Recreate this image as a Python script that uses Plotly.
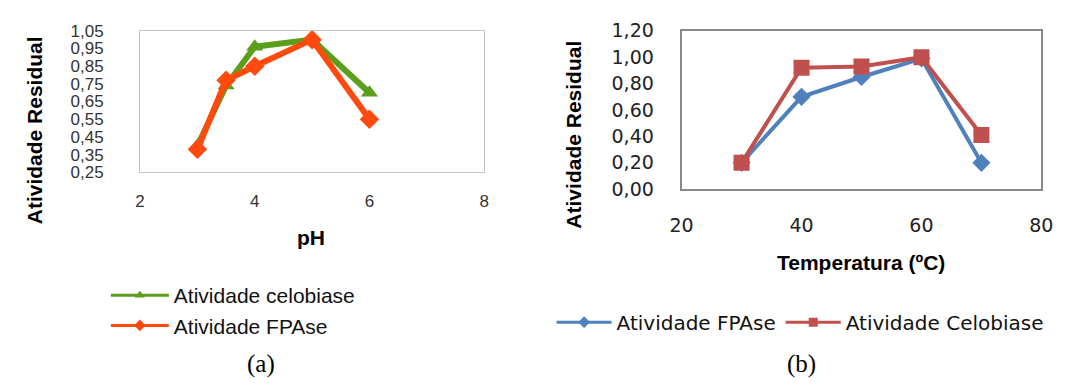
import plotly.graph_objects as go

# (a) pH
ph = [3, 3.5, 4, 5, 6]
celobiase_ph = [0.40, 0.74, 0.96, 1.00, 0.70]
fpase_ph = [0.38, 0.77, 0.85, 1.00, 0.55]

# (b) temperatura
temp = [30, 40, 50, 60, 70]
fpase_temp = [0.20, 0.70, 0.85, 0.99, 0.20]
celobiase_temp = [0.20, 0.92, 0.93, 1.00, 0.41]

W, H = 1069, 385

GREEN = "#5a9e1c"
ORANGE = "#ff4a0e"
BLUE = "#4f81bd"
RED = "#c0504d"

fig = go.Figure()


def series(x, y, name, color, width, symbol, size, xa, ya, leg):
    # data trace (thick) + legend-only entry (thin line, small marker)
    fig.add_trace(go.Scatter(
        x=x, y=y, name=name, mode="lines+markers", showlegend=False,
        line=dict(color=color, width=width), marker=dict(symbol=symbol, size=size, color=color),
        xaxis=xa, yaxis=ya))
    fig.add_trace(go.Scatter(
        x=[None], y=[None], name=name, mode="lines+markers", showlegend=True,
        line=dict(color=color, width=3), marker=dict(symbol=symbol, size=9, color=color),
        xaxis=xa, yaxis=ya, legend=leg))


series(ph, celobiase_ph, "Atividade celobiase", GREEN, 6, "triangle-up", 15, "x", "y", "legend")
series(ph, fpase_ph, "Atividade FPAse", ORANGE, 6, "diamond", 15, "x", "y", "legend")
series(temp, fpase_temp, "Atividade FPAse", BLUE, 4, "diamond", 14, "x2", "y2", "legend2")
series(temp, celobiase_temp, "Atividade Celobiase", RED, 4, "square", 16, "x2", "y2", "legend2")

tick_a = dict(family="Liberation Sans, Arial, sans-serif", size=17, color="#333")
tick_b = dict(family="DejaVu Sans, sans-serif", size=19, color="#222")

common = dict(showgrid=False, zeroline=False, showline=True, mirror=True, ticks="")

fig.update_layout(
    width=W, height=H,
    margin=dict(l=0, r=0, t=0, b=0),
    paper_bgcolor="white", plot_bgcolor="white",
    separators=",.",
    xaxis=dict(domain=[131 / W, 483 / W], range=[2, 8], dtick=2, tick0=2,
               linecolor="#c4c4c4", linewidth=1, tickfont=tick_a,
               ticklabelstandoff=13, anchor="y", **common),
    yaxis=dict(domain=[(H - 171) / H, (H - 21) / H], range=[0.25, 1.05], dtick=0.1, tick0=0.25,
               tickformat=".2f", linecolor="#c4c4c4", linewidth=1, tickfont=tick_a,
               ticklabelstandoff=32, anchor="x", **common),
    xaxis2=dict(domain=[685 / W, 1053 / W], range=[20, 80], dtick=20, tick0=20,
                linecolor="#8a8a8a", linewidth=2, tickfont=tick_b,
                ticklabelstandoff=18, anchor="y2", **common),
    yaxis2=dict(domain=[(H - 189) / H, (H - 21) / H], range=[0, 1.2], dtick=0.2, tick0=0,
                tickformat=".2f", linecolor="#8a8a8a", linewidth=2, tickfont=tick_b,
                ticklabelstandoff=22, anchor="x2", **common),
    legend=dict(x=96 / W, y=1 - 280 / H, xanchor="left", yanchor="top",
                orientation="v", itemwidth=58,
                font=dict(family="Liberation Sans, Arial, sans-serif", size=21, color="#111"),
                tracegroupgap=0, bgcolor="rgba(0,0,0,0)"),
    legend2=dict(x=552 / W, y=1 - 330 / H, xanchor="left", yanchor="middle",
                 orientation="h", itemwidth=55,
                 font=dict(family="DejaVu Sans, sans-serif", size=20, color="#111"),
                 bgcolor="rgba(0,0,0,0)"),
)

title_font = dict(family="Liberation Sans, Arial, sans-serif", size=21, color="#000")

annotations = [
    dict(text="<b>Atividade Residual</b>", x=23 / W, y=1 - 126 / H, textangle=-90,
         font=title_font),
    dict(text="<b>pH</b>", x=306 / W, y=1 - 240 / H, font=title_font),
    dict(text="<b>Atividade Residual</b>", x=574 / W, y=1 - 131 / H, textangle=-90,
         font=title_font),
    dict(text="<b>Temperatura (ºC)</b>", x=869 / W, y=1 - 267 / H, font=title_font),
    dict(text="(a)", x=255 / W, y=1 - 374 / H,
         font=dict(family="Liberation Serif, Times New Roman, serif", size=25, color="#000")),
    dict(text="(b)", x=808 / W, y=1 - 374 / H,
         font=dict(family="Liberation Serif, Times New Roman, serif", size=25, color="#000")),
]
for a in annotations:
    a.update(xref="paper", yref="paper", showarrow=False, xanchor="center", yanchor="middle")
fig.update_layout(annotations=annotations)

fig.write_html("out.html")
